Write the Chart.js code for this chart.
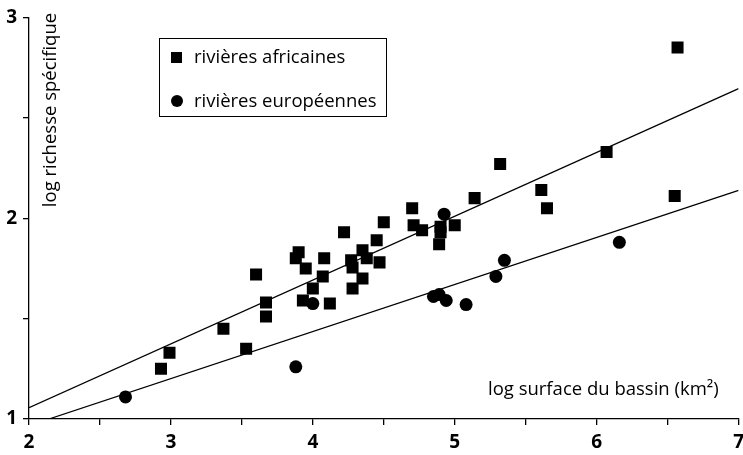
<!DOCTYPE html>
<html>
<head>
<meta charset="utf-8">
<script src="https://cdn.jsdelivr.net/npm/chart.js@4/dist/chart.umd.min.js"></script>
<title>Richesse spécifique</title>
<style>
  html, body { margin: 0; padding: 0; overflow: hidden; background: #fff; }
</style>
</head>
<body>
<canvas id="chart" width="750" height="455"></canvas>
<script>
// rivières africaines (carrés)
const africaX = [2.93, 2.99, 3.37, 3.53, 3.60, 3.67, 3.67, 3.90, 3.88, 3.95, 3.93, 4.00, 4.07, 4.08, 4.12,
                 4.22, 4.27, 4.28, 4.28, 4.35, 4.35, 4.38, 4.45, 4.47, 4.50, 4.70, 4.71, 4.77, 4.90, 4.90,
                 4.89, 5.00, 5.14, 5.32, 5.61, 5.65, 6.07, 6.55, 6.57];
const africaY = [1.25, 1.33, 1.45, 1.35, 1.72, 1.58, 1.51, 1.83, 1.80, 1.75, 1.59, 1.65, 1.71, 1.80, 1.575,
                 1.93, 1.79, 1.755, 1.65, 1.70, 1.84, 1.80, 1.89, 1.78, 1.98, 2.05, 1.965, 1.94, 1.957, 1.93,
                 1.87, 1.965, 2.10, 2.27, 2.14, 2.05, 2.33, 2.11, 2.85];
// rivières européennes (ronds)
const europeX = [2.68, 3.88, 4.00, 4.85, 4.89, 4.94, 5.08, 5.29, 5.35, 4.925, 6.16];
const europeY = [1.11, 1.26, 1.575, 1.61, 1.62, 1.59, 1.57, 1.71, 1.79, 2.02, 1.88];
// droites de régression (extrémités)
const fitAfricaX = [2, 7];
const fitAfricaY = [1.056, 2.645];
const fitEuropeX = [2.14, 7];
const fitEuropeY = [1.0, 2.139];

const xTickLabels = ['2', '3', '4', '5', '6', '7'];
const yTickLabels = ['1', '2', '3'];
const legendLabels = ['rivières africaines', 'rivières européennes'];
const xTitle = 'log surface du bassin (km²)';
const yTitle = 'log richesse spécifique';

function pts(xs, ys) { return xs.map((x, i) => ({ x: x, y: ys[i] })); }

const textFont = '500 18.5px "Open Sans", sans-serif';

// légende encadrée et titres des axes dessinés dans la zone du graphique
const annotations = {
  id: 'annotations',
  afterDraw(chart) {
    const ctx = chart.ctx;
    ctx.save();
    ctx.fillStyle = '#000';
    ctx.strokeStyle = '#000';
    ctx.font = textFont;

    // titre axe y
    ctx.save();
    ctx.translate(51, 110);
    ctx.rotate(-Math.PI / 2);
    ctx.textAlign = 'center';
    ctx.textBaseline = 'middle';
    ctx.fillText(yTitle, 0, 0);
    ctx.restore();

    // titre axe x
    ctx.textAlign = 'left';
    ctx.textBaseline = 'middle';
    ctx.fillText(xTitle, 488, 390);

    // légende
    ctx.lineWidth = 1;
    ctx.strokeRect(159.5, 38.5, 227, 78);
    ctx.fillRect(171, 52, 11, 11);
    ctx.beginPath();
    ctx.arc(177, 101, 6, 0, Math.PI * 2);
    ctx.fill();
    ctx.fillText(legendLabels[0], 194, 58);
    ctx.fillText(legendLabels[1], 194, 102);
    ctx.restore();
  }
};

function tickLabel(list) {
  return function (v) {
    const s = String(v);
    return list.includes(s) ? s : '';
  };
}

new Chart(document.getElementById('chart'), {
  type: 'scatter',
  data: {
    datasets: [
      {
        label: legendLabels[0],
        data: pts(africaX, africaY),
        pointStyle: 'rect',
        pointRadius: 8.5,
        backgroundColor: '#000',
        borderColor: '#000',
        borderWidth: 0
      },
      {
        label: legendLabels[1],
        data: pts(europeX, europeY),
        pointStyle: 'circle',
        pointRadius: 6.5,
        backgroundColor: '#000',
        borderColor: '#000',
        borderWidth: 0
      },
      {
        type: 'line',
        data: pts(fitAfricaX, fitAfricaY),
        borderColor: '#000',
        borderWidth: 1.3,
        pointRadius: 0,
        fill: false
      },
      {
        type: 'line',
        data: pts(fitEuropeX, fitEuropeY),
        borderColor: '#000',
        borderWidth: 1.3,
        pointRadius: 0,
        fill: false
      }
    ]
  },
  options: {
    responsive: false,
    animation: false,
    layout: { padding: { top: 17, right: 10, left: 0, bottom: 0 } },
    plugins: {
      legend: { display: false },
      title: { display: false },
      tooltip: { enabled: false }
    },
    scales: {
      x: {
        type: 'linear',
        min: 2,
        max: 7,
        afterFit: s => { s.height = 36; },
        border: { display: true, color: '#000', width: 1.3 },
        grid: { drawOnChartArea: false, drawTicks: true, tickLength: 6, color: '#000', lineWidth: 1.3 },
        ticks: {
          stepSize: 0.5,
          autoSkip: false,
          maxRotation: 0,
          padding: 6,
          color: '#000',
          font: { family: '"Open Sans", sans-serif', size: 19, weight: '700' },
          callback: tickLabel(xTickLabels)
        }
      },
      y: {
        type: 'linear',
        min: 1,
        max: 3,
        afterFit: s => { s.width = 29; },
        border: { display: true, color: '#000', width: 1.3 },
        grid: { drawOnChartArea: false, drawTicks: true, tickLength: 6, color: '#000', lineWidth: 1.3 },
        ticks: {
          stepSize: 0.5,
          autoSkip: false,
          padding: 6,
          color: '#000',
          font: { family: '"Open Sans", sans-serif', size: 19, weight: '700' },
          callback: tickLabel(yTickLabels)
        }
      }
    }
  },
  plugins: [annotations]
});
</script>
</body>
</html>
